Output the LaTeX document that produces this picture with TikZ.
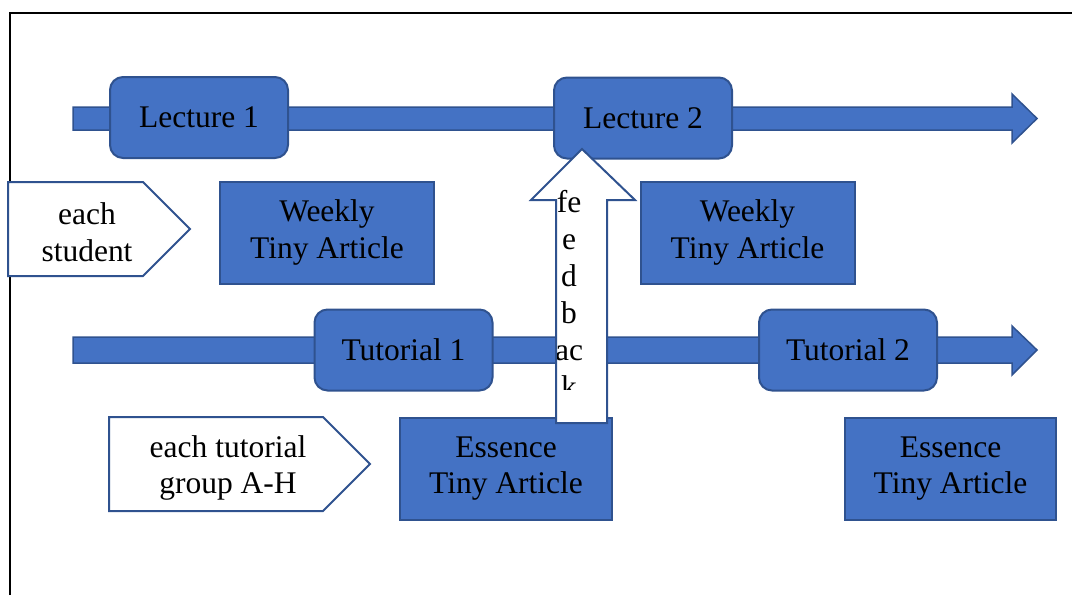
\documentclass[tikz,border=0pt]{standalone}
\usepackage{fontspec}
\setmainfont{Liberation Serif}
\definecolor{boxfill}{HTML}{4472C4}
\definecolor{boxline}{HTML}{2F528F}
\begin{document}
\begin{tikzpicture}[x=1pt,y=-1pt,
  every node/.style={font=\fontsize{31.5}{36.5}\selectfont, inner sep=0pt, align=center},
  timeline/.style={fill=boxfill, draw=boxline, line width=1.5pt, line join=miter},
  roundbox/.style={fill=boxfill, draw=boxline, line width=2pt, rounded corners=13pt, minimum width=178pt, minimum height=81pt},
  squarebox/.style={fill=boxfill, draw=boxline, line width=2pt, minimum width=214pt, minimum height=102pt},
  tag/.style={fill=white, draw=boxline, line width=2pt, line join=miter},
  fbarrow/.style={fill=white, draw=boxline, line width=2pt, line join=miter}
]
\useasboundingbox (0,0) rectangle (1072,595);
% frame
\draw[line width=2pt] (10,595) -- (10,13) -- (1072,13);

% timelines
\draw[timeline] (73,107) -- (1012,107) -- (1012,94) -- (1037,118.5) -- (1012,143) -- (1012,130) -- (73,130) -- cycle;
\draw[timeline] (73,337) -- (1012,337) -- (1012,326) -- (1037,350) -- (1012,375) -- (1012,363) -- (73,363) -- cycle;

% lectures and tutorials
\node[roundbox] (lec1) at (199,117.5) {Lecture 1};
\node[roundbox] (lec2) at (643,118) {Lecture 2};
\node[roundbox] (tut1) at (403.5,350) {Tutorial 1};
\node[roundbox] (tut2) at (848,350) {Tutorial 2};

% articles
\node[squarebox] (wk1) at (327,232.5) {Weekly\\Tiny Article};
\node[squarebox] (wk2) at (747.5,232.5) {Weekly\\Tiny Article};
\node[squarebox, minimum width=212pt] (es1) at (506,468.5) {Essence\\Tiny Article};
\node[squarebox, minimum width=211pt] (es2) at (950.5,468.5) {Essence\\Tiny Article};

% tags
\draw[tag] (8,182) -- (143,182) -- (190,229) -- (143,276) -- (8,276) -- cycle;
\node (stud) at (87,232) {each\\student};
\draw[tag] (109,417) -- (323,417) -- (370,464) -- (323,511) -- (109,511) -- cycle;
\node (grp) at (228,468) {each tutorial\\group A-H};

% feedback arrow
\draw[fbarrow] (556,423) -- (556,200) -- (531,200) -- (582,149) -- (635,200) -- (607,200) -- (607,423) -- cycle;
\begin{scope}
  \clip (557,150) rectangle (606,389);
  \foreach \t [count=\i] in {fe,e,d,b,ac,k}
    \node[anchor=base] (fb\i) at (569,{212+37*(\i-1)}) {\t};
\end{scope}
\end{tikzpicture}
\end{document}
